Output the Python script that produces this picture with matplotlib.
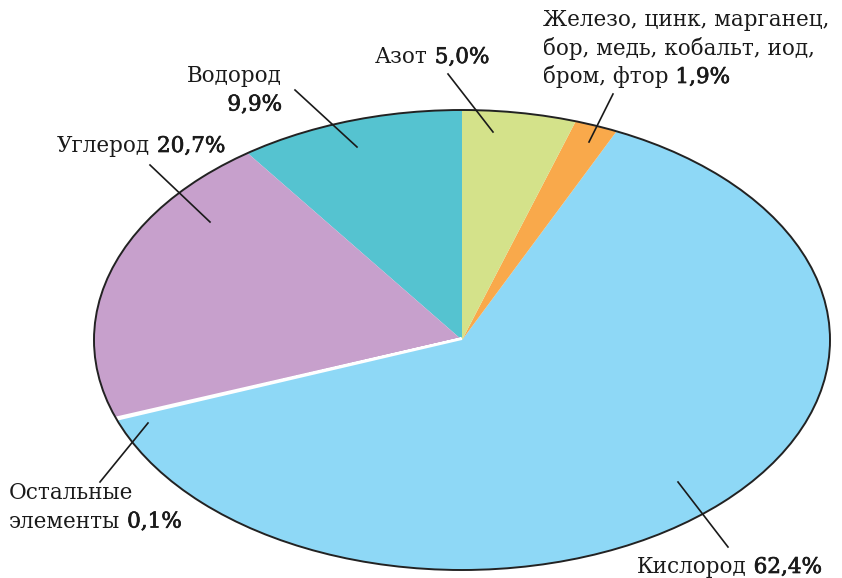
import matplotlib.pyplot as plt
import matplotlib.patheffects as pe
from matplotlib.lines import Line2D
from matplotlib.patches import Ellipse

# elements in the human body, % by mass (counter-clockwise from top)
names = ['Водород', 'Углерод', 'Остальные элементы', 'Кислород',
         'Железо, цинк, марганец, бор, медь, кобальт, иод, бром, фтор', 'Азот']
shares = [9.9, 20.7, 0.1, 62.4, 1.9, 5.0]
colors = ['#55c3d0', '#c7a0cc', '#ffffff', '#8ed8f6', '#f9a94b', '#d4e28a']

# label lines: (regular part, emphasised part)
labels = [
    [('Водород', ''), ('', '9,9%')],
    [('Углерод', '20,7%')],
    [('Остальные', ''), ('элементы', '0,1%')],
    [('Кислород', '62,4%')],
    [('Железо, цинк, марганец,', ''), ('бор, медь, кобальт, иод,', ''),
     ('бром, фтор', '1,9%')],
    [('Азот', '5,0%')],
]

W, H = 842, 578
fig = plt.figure(figsize=(W / 100, H / 100), dpi=100)
# axes box is the bounding box of the (stretched) pie
ax = fig.add_axes([94 / W, (H - 570) / H, 736 / W, 460 / H])

wedges, _ = ax.pie(shares, colors=colors, startangle=90, counterclock=True,
                   wedgeprops=dict(linewidth=0))
wedges[2].set_edgecolor('white')
wedges[2].set_linewidth(4)
for w in wedges:
    w.set_clip_on(False)
ax.add_patch(Ellipse((0, 0), 2, 2, fill=False, edgecolor='#222222', lw=1.4,
                     clip_on=False))
ax.set_aspect('auto')
ax.set_xlim(-1, 1)
ax.set_ylim(-1, 1)
ax.axis('off')

plt.rcParams['font.family'] = 'DejaVu Serif'
fs = 15.5
ink = '#1a1a1a'
# numbers are set a little heavier than the words
heavy = [pe.withStroke(linewidth=0.5, foreground=ink)]
renderer = fig.canvas.get_renderer()

def px(x, y):
    return x / W, 1 - y / H

def width(s):
    t = fig.text(0, 0, s, fontsize=fs)
    w = t.get_window_extent(renderer).width
    t.remove()
    return w

space = width('a a') - width('aa')

def put_line(x, y, reg, num, ha):
    kw = dict(va='center', fontsize=fs, color=ink)
    if ha == 'left':
        if reg:
            fig.text(*px(x, y), reg, ha='left', **kw)
        if num:
            x2 = x + (width(reg) + space if reg else 0)
            fig.text(*px(x2, y), num, ha='left', path_effects=heavy, **kw)
    else:
        wn = width(num) + space if num else 0
        if num:
            fig.text(*px(x, y), num, ha='right', path_effects=heavy, **kw)
        if reg:
            fig.text(*px(x - wn, y), reg, ha='right', **kw)

# text placement (pixel position of first line) and leader lines
text_pos = [(282, 76, 'right'), (57, 146, 'left'), (9, 493, 'left'),
            (637, 567, 'left'), (543, 20, 'left'), (375, 57, 'left')]
leaders = [((295, 90), (357, 147)), ((150, 165), (210, 222)), ((100, 482), (148, 423)),
           ((678, 482), (728, 547)), ((613, 94), (589, 142)), ((448, 74), (493, 132))]
step = 28.5

for lines, (x, y, ha), (p0, p1) in zip(labels, text_pos, leaders):
    for i, (reg, num) in enumerate(lines):
        put_line(x, y + i * step, reg, num, ha)
    (x0, y0), (x1, y1) = px(*p0), px(*p1)
    fig.add_artist(Line2D([x0, x1], [y0, y1], color=ink, lw=1.2,
                          transform=fig.transFigure))

fig.savefig('out.png', dpi=100)
